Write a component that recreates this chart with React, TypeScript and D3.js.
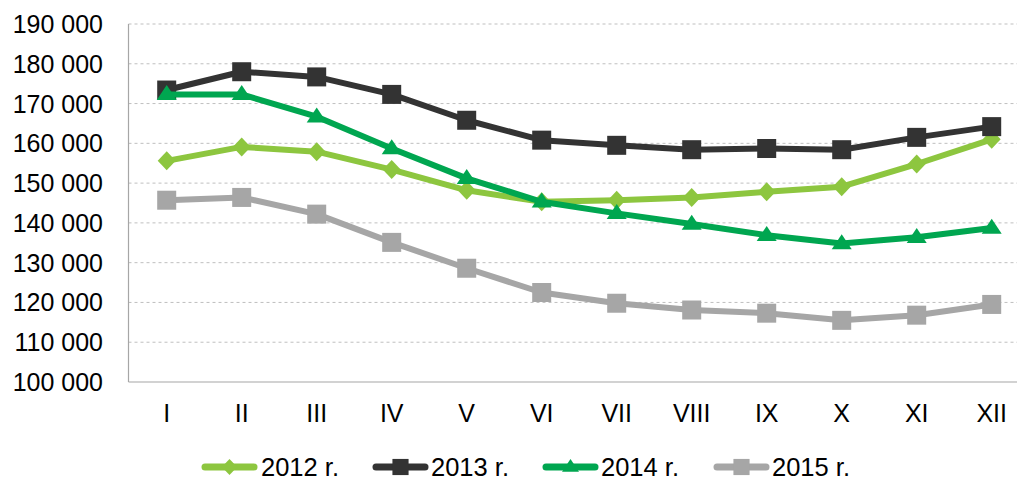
import React from "react";
import * as d3 from "d3";

const months = ["I", "II", "III", "IV", "V", "VI", "VII", "VIII", "IX", "X", "XI", "XII"];
const yTicks = [100000, 110000, 120000, 130000, 140000, 150000, 160000, 170000, 180000, 190000];
const s2012 = [155600, 159100, 157900, 153400, 148200, 145300, 145700, 146400, 147800, 149100, 154800, 161000];
const s2013 = [173400, 178000, 176700, 172300, 165800, 160800, 159500, 158400, 158700, 158400, 161500, 164200];
const s2014 = [172300, 172300, 166700, 158700, 151200, 145300, 142400, 139700, 136900, 134800, 136400, 138700];
const s2015 = [145700, 146400, 142200, 135100, 128600, 122500, 119800, 118100, 117300, 115500, 116800, 119500];
const seriesNames = ["2012 r.", "2013 r.", "2014 r.", "2015 r."];

const series = [
  { name: seriesNames[0], values: s2012, color: "#8DC63F", marker: "diamond" },
  { name: seriesNames[1], values: s2013, color: "#333333", marker: "square" },
  { name: seriesNames[2], values: s2014, color: "#00A650", marker: "triangle" },
  { name: seriesNames[3], values: s2015, color: "#A6A6A6", marker: "square" },
];

const W = 1017;
const H = 480;
const plotLeft = 128.5;
const plotRight = 1017;
const plotTop = 24;
const plotBottom = 382;

function Marker({ type, x, y, color, scale = 1 }: { type: string; x: number; y: number; color: string; scale?: number }) {
  if (type === "square") {
    const s = 19 * scale;
    return <rect x={x - s / 2} y={y - s / 2} width={s} height={s} fill={color} />;
  }
  if (type === "diamond") {
    const rx = 9 * scale;
    const ry = 9.5 * scale;
    return <path d={`M${x},${y - ry}L${x + rx},${y}L${x},${y + ry}L${x - rx},${y}Z`} fill={color} />;
  }
  const w = 10 * scale;
  const h = 15 * scale;
  return <path d={`M${x},${y - h * 0.62}L${x + w},${y + h * 0.38}L${x - w},${y + h * 0.38}Z`} fill={color} />;
}

export default function App() {
  const x = d3.scaleBand<string>().domain(months).range([129.2, 1029.2]);
  const cx = (m: string) => (x(m) as number) + x.bandwidth() / 2;
  const y = d3.scaleLinear().domain([100000, 190000]).range([plotBottom, plotTop]);
  const fmt = (v: number) => d3.format(",")(v).replace(/,/g, " ");
  const line = d3
    .line<number>()
    .x((_, i) => cx(months[i]))
    .y((v) => y(v));

  const legendItems = [
    { lx: 202, tx: 261 },
    { lx: 373, tx: 431 },
    { lx: 543, tx: 601 },
    { lx: 714, tx: 772 },
  ];
  const legendY = 467;

  return (
    <svg width={W} height={H} style={{ position: "absolute", left: 0, top: 0, background: "#fff" }} fontFamily="'Liberation Sans', Arial, sans-serif">
      {yTicks.slice(1).map((t) => (
        <line key={t} x1={plotLeft} x2={plotRight} y1={y(t)} y2={y(t)} stroke="#BFBFBF" strokeWidth={1} strokeDasharray="3,3" />
      ))}
      <line x1={plotLeft} x2={plotLeft} y1={plotTop} y2={plotBottom} stroke="#A6A6A6" strokeWidth={1.2} />
      <line x1={plotLeft} x2={plotRight} y1={plotBottom} y2={plotBottom} stroke="#A6A6A6" strokeWidth={1.2} />
      {yTicks.map((t) => (
        <text key={t} x={103} y={y(t)} dy="0.36em" textAnchor="end" fontSize={25} fill="#000">
          {fmt(t)}
        </text>
      ))}
      {months.map((m) => (
        <text key={m} x={cx(m)} y={413} dy="0.36em" textAnchor="middle" fontSize={25} fill="#000">
          {m}
        </text>
      ))}
      {series.map((s) => (
        <g key={s.name}>
          <path d={line(s.values) || ""} fill="none" stroke={s.color} strokeWidth={6} strokeLinejoin="round" />
          {s.values.map((v, i) => (
            <Marker key={i} type={s.marker} x={cx(months[i])} y={y(v)} color={s.color} />
          ))}
        </g>
      ))}
      {series.map((s, i) => {
        const it = legendItems[i];
        return (
          <g key={s.name}>
            <line x1={it.lx + 3} x2={it.lx + 52} y1={legendY} y2={legendY} stroke={s.color} strokeWidth={7} strokeLinecap="round" />
            <Marker type={s.marker} x={it.lx + 27.5} y={legendY} color={s.color} scale={0.85} />
            <text x={it.tx} y={legendY} dy="0.36em" fontSize={25.5} fill="#000">
              {s.name}
            </text>
          </g>
        );
      })}
    </svg>
  );
}
